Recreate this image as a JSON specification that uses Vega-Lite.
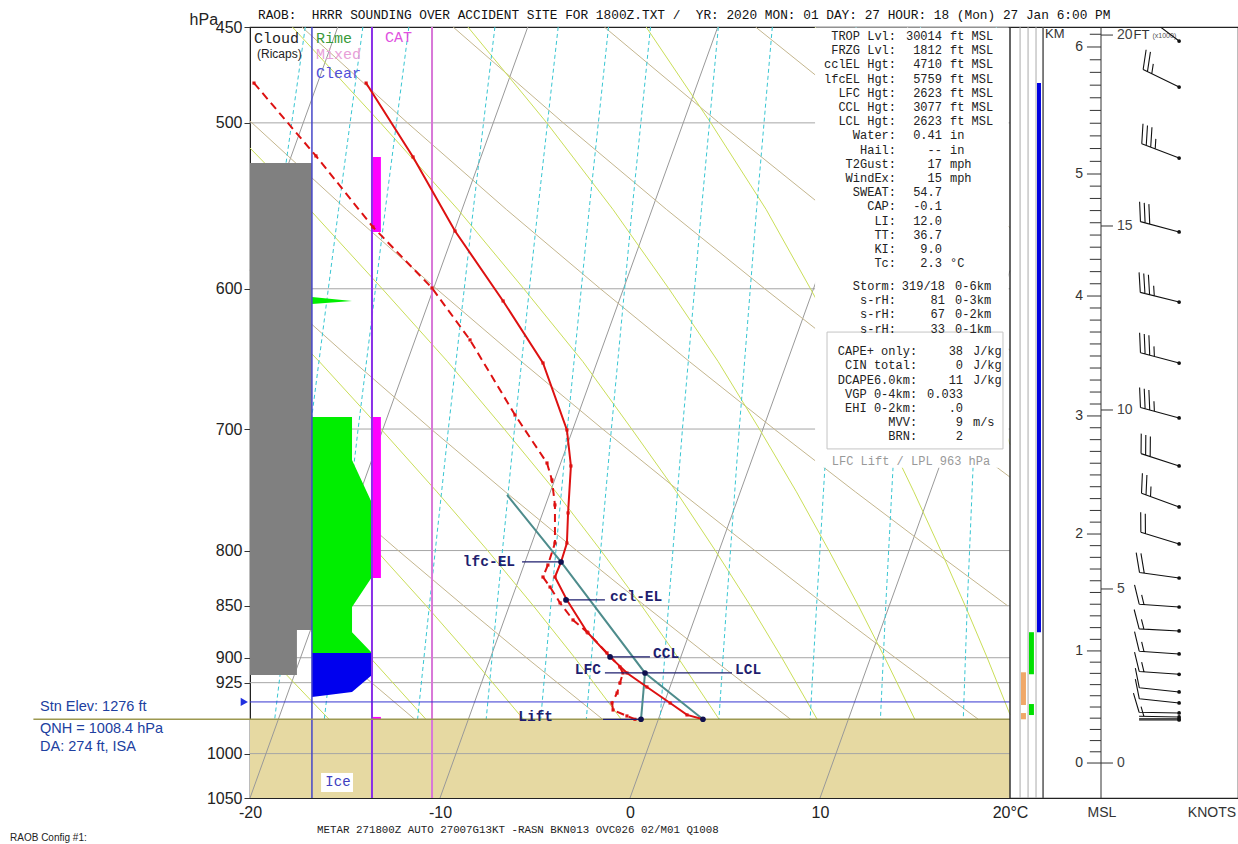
{
"$schema":"https://vega.github.io/schema/vega-lite/v6.json",
"width":988,"height":771,
"autosize":{"type":"none"},
"padding":{"left":250,"top":27,"right":0,"bottom":46},
"background":"white",
"config":{"view":{"stroke":"#222","strokeWidth":1.2},"text":{"font":"Liberation Sans","baseline":"middle"}},
"datasets":{
"iso":[{"id":"i1","x":-20,"p":588.1},{"id":"i1","x":-15.38,"p":450},{"id":"i2","x":-20,"p":1050},{"id":"i2","x":-5.38,"p":450},{"id":"i3","x":-10,"p":1050},{"id":"i3","x":4.62,"p":450},{"id":"i4","x":0,"p":1050},{"id":"i4","x":14.62,"p":450},{"id":"i5","x":10,"p":1050},{"id":"i5","x":20,"p":588.1}],
"dry":[
{"id":"d1","x":-11.33,"p":963},{"id":"d1","x":-15.15,"p":900},{"id":"d1","x":-18.31,"p":850},{"id":"d1","x":-20,"p":824},
{"id":"d2","x":-1.44,"p":963},{"id":"d2","x":-5.45,"p":900},{"id":"d2","x":-8.76,"p":850},{"id":"d2","x":-12.2,"p":800},{"id":"d2","x":-15.77,"p":750},{"id":"d2","x":-19.5,"p":700},{"id":"d2","x":-20,"p":694},
{"id":"d3","x":8.45,"p":963},{"id":"d3","x":4.26,"p":900},{"id":"d3","x":0.79,"p":850},{"id":"d3","x":-2.81,"p":800},{"id":"d3","x":-6.56,"p":750},{"id":"d3","x":-10.47,"p":700},{"id":"d3","x":-14.55,"p":650},{"id":"d3","x":-18.84,"p":600},{"id":"d3","x":-20,"p":587},
{"id":"d4","x":18.33,"p":963},{"id":"d4","x":13.96,"p":900},{"id":"d4","x":10.33,"p":850},{"id":"d4","x":6.57,"p":800},{"id":"d4","x":2.64,"p":750},{"id":"d4","x":-1.44,"p":700},{"id":"d4","x":-5.71,"p":650},{"id":"d4","x":-10.19,"p":600},{"id":"d4","x":-14.92,"p":550},{"id":"d4","x":-20,"p":499},
{"id":"d5","x":19.87,"p":850},{"id":"d5","x":15.95,"p":800},{"id":"d5","x":11.86,"p":750},{"id":"d5","x":7.59,"p":700},{"id":"d5","x":3.13,"p":650},{"id":"d5","x":-1.56,"p":600},{"id":"d5","x":-6.5,"p":550},{"id":"d5","x":-11.71,"p":500},{"id":"d5","x":-17.27,"p":450},
{"id":"d6","x":20,"p":738},{"id":"d6","x":16.62,"p":700},{"id":"d6","x":11.97,"p":650},{"id":"d6","x":7.09,"p":600},{"id":"d6","x":1.93,"p":550},{"id":"d6","x":-3.51,"p":500},{"id":"d6","x":-9.31,"p":450},
{"id":"d7","x":20,"p":642},{"id":"d7","x":15.73,"p":600},{"id":"d7","x":10.36,"p":550},{"id":"d7","x":4.69,"p":500},{"id":"d7","x":-1.35,"p":450},
{"id":"d8","x":20,"p":561},{"id":"d8","x":18.79,"p":550},{"id":"d8","x":12.89,"p":500},{"id":"d8","x":6.61,"p":450}],
"moist":[
{"id":"m1","x":-15.84,"p":963},{"id":"m1","x":-18.94,"p":900},{"id":"m1","x":-20,"p":880},
{"id":"m2","x":-10.74,"p":963},{"id":"m2","x":-13.67,"p":900},{"id":"m2","x":-16.23,"p":850},{"id":"m2","x":-18.99,"p":800},{"id":"m2","x":-20,"p":782},
{"id":"m3","x":-5.61,"p":963},{"id":"m3","x":-8.33,"p":900},{"id":"m3","x":-10.73,"p":850},{"id":"m3","x":-13.35,"p":800},{"id":"m3","x":-16.21,"p":750},{"id":"m3","x":-19.36,"p":700},{"id":"m3","x":-20,"p":690},
{"id":"m4","x":-0.46,"p":963},{"id":"m4","x":-2.91,"p":900},{"id":"m4","x":-5.09,"p":850},{"id":"m4","x":-7.49,"p":800},{"id":"m4","x":-10.16,"p":750},{"id":"m4","x":-13.11,"p":700},{"id":"m4","x":-16.35,"p":650},{"id":"m4","x":-20,"p":601},
{"id":"m5","x":4.69,"p":963},{"id":"m5","x":2.53,"p":900},{"id":"m5","x":0.61,"p":850},{"id":"m5","x":-1.53,"p":800},{"id":"m5","x":-3.9,"p":750},{"id":"m5","x":-6.62,"p":700},{"id":"m5","x":-9.6,"p":650},{"id":"m5","x":-13.04,"p":600},{"id":"m5","x":-16.85,"p":550},{"id":"m5","x":-20,"p":514},
{"id":"m6","x":9.85,"p":963},{"id":"m6","x":7.99,"p":900},{"id":"m6","x":6.34,"p":850},{"id":"m6","x":4.49,"p":800},{"id":"m6","x":2.44,"p":750},{"id":"m6","x":0.09,"p":700},{"id":"m6","x":-2.48,"p":650},{"id":"m6","x":-5.59,"p":600},{"id":"m6","x":-9.05,"p":550},{"id":"m6","x":-13.13,"p":500},{"id":"m6","x":-17.77,"p":450},
{"id":"m7","x":14.99,"p":963},{"id":"m7","x":13.41,"p":900},{"id":"m7","x":12.02,"p":850},{"id":"m7","x":10.47,"p":800},{"id":"m7","x":8.76,"p":750},{"id":"m7","x":6.81,"p":700},{"id":"m7","x":4.64,"p":650},{"id":"m7","x":2.05,"p":600},{"id":"m7","x":-0.89,"p":550},{"id":"m7","x":-4.38,"p":500},{"id":"m7","x":-8.53,"p":450},
{"id":"m8","x":20,"p":958},{"id":"m8","x":18.8,"p":900},{"id":"m8","x":17.64,"p":850},{"id":"m8","x":16.36,"p":800},{"id":"m8","x":14.94,"p":750},{"id":"m8","x":13.35,"p":700},{"id":"m8","x":11.59,"p":650},{"id":"m8","x":9.5,"p":600},{"id":"m8","x":7.17,"p":550},{"id":"m8","x":4.25,"p":500},{"id":"m8","x":0.85,"p":450},
{"id":"m9","x":20,"p":712},{"id":"m9","x":19.7,"p":700},{"id":"m9","x":18.31,"p":650},{"id":"m9","x":16.65,"p":600},{"id":"m9","x":14.8,"p":550},{"id":"m9","x":12.48,"p":500},{"id":"m9","x":9.74,"p":450}],
"mix":[
{"id":"r06","x":-20,"p":700},{"id":"r06","x":-18.45,"p":550},{"id":"r06","x":-17.09,"p":450},
{"id":"r08","x":-18.7,"p":963},{"id":"r08","x":-17.98,"p":850},{"id":"r08","x":-16.83,"p":700},{"id":"r08","x":-15.34,"p":550},{"id":"r08","x":-14.06,"p":450},
{"id":"r1","x":-16.09,"p":963},{"id":"r1","x":-15.4,"p":850},{"id":"r1","x":-14.31,"p":700},{"id":"r1","x":-12.88,"p":550},{"id":"r1","x":-11.64,"p":450},
{"id":"r15","x":-11.18,"p":963},{"id":"r15","x":-10.56,"p":850},{"id":"r15","x":-9.56,"p":700},{"id":"r15","x":-8.25,"p":550},{"id":"r15","x":-7.11,"p":450},
{"id":"r2","x":-7.57,"p":963},{"id":"r2","x":-7.0,"p":850},{"id":"r2","x":-6.08,"p":700},{"id":"r2","x":-4.85,"p":550},{"id":"r2","x":-3.78,"p":450},
{"id":"r25","x":-4.7,"p":963},{"id":"r25","x":-4.17,"p":850},{"id":"r25","x":-3.3,"p":700},{"id":"r25","x":-2.15,"p":550},{"id":"r25","x":-1.13,"p":450},
{"id":"r3","x":-2.3,"p":963},{"id":"r3","x":-1.8,"p":850},{"id":"r3","x":-0.98,"p":700},{"id":"r3","x":0.11,"p":550},{"id":"r3","x":1.08,"p":450},
{"id":"r4","x":1.58,"p":963},{"id":"r4","x":2.03,"p":850},{"id":"r4","x":2.76,"p":700},{"id":"r4","x":3.76,"p":550},{"id":"r4","x":4.65,"p":450},
{"id":"r5","x":4.68,"p":963},{"id":"r5","x":5.08,"p":850},{"id":"r5","x":5.75,"p":700},{"id":"r5","x":6.66,"p":550},{"id":"r5","x":7.49,"p":450},
{"id":"r7","x":9.48,"p":963},{"id":"r7","x":9.82,"p":850},{"id":"r7","x":10.38,"p":700},{"id":"r7","x":11.17,"p":550},{"id":"r7","x":11.9,"p":450},
{"id":"r9","x":13.18,"p":963},{"id":"r9","x":13.46,"p":850},{"id":"r9","x":13.95,"p":700},{"id":"r9","x":14.64,"p":550},{"id":"r9","x":15.29,"p":450},
{"id":"r12","x":17.54,"p":963},{"id":"r12","x":17.75,"p":850},{"id":"r12","x":18.14,"p":700},{"id":"r12","x":18.72,"p":550},{"id":"r12","x":19.28,"p":450}],
"temp":[
{"k":"T","x":-13.89,"p":478.6},{"k":"T","x":-11.42,"p":519.1},{"k":"T","x":-9.21,"p":563.1},{"k":"T","x":-6.68,"p":608.1},{"k":"T","x":-4.58,"p":651.0},{"k":"T","x":-3.32,"p":700.7},{"k":"T","x":-3.11,"p":729.0},{"k":"T","x":-3.26,"p":767.6},{"k":"T","x":-3.32,"p":793.4},{"k":"T","x":-3.63,"p":810.1},{"k":"T","x":-3.95,"p":823.6},{"k":"T","x":-3.32,"p":844.6},{"k":"T","x":-2.26,"p":874.9},{"k":"T","x":-1.05,"p":899.2},{"k":"T","x":-0.16,"p":915.2},{"k":"T","x":0.89,"p":929.4},{"k":"T","x":2.11,"p":945.9},{"k":"T","x":3.0,"p":958.4},{"k":"T","x":3.84,"p":963},
{"k":"Td","x":-19.79,"p":478.6},{"k":"Td","x":-16.53,"p":518.5},{"k":"Td","x":-13.53,"p":560.6},{"k":"Td","x":-10.42,"p":599.5},{"k":"Td","x":-8.42,"p":634.7},{"k":"Td","x":-6.05,"p":689.3},{"k":"Td","x":-4.37,"p":726.6},{"k":"Td","x":-4.11,"p":740.3},{"k":"Td","x":-3.95,"p":760.9},{"k":"Td","x":-3.95,"p":793.4},{"k":"Td","x":-4.32,"p":812.8},{"k":"Td","x":-4.58,"p":823.6},{"k":"Td","x":-4.21,"p":832.7},{"k":"Td","x":-3.68,"p":847.4},{"k":"Td","x":-3.0,"p":863.4},{"k":"Td","x":-2.21,"p":875.8},{"k":"Td","x":-1.21,"p":895.3},{"k":"Td","x":-0.53,"p":909.2},{"k":"Td","x":-0.37,"p":915.2},{"k":"Td","x":-0.53,"p":925.3},{"k":"Td","x":-0.68,"p":935.6},{"k":"Td","x":-0.95,"p":945.9},{"k":"Td","x":-0.89,"p":953.2},{"k":"Td","x":-0.16,"p":959.5},{"k":"Td","x":0.26,"p":963}],
"kmminor":[{"p":998.0},{"p":985.8},{"p":973.8},{"p":961.8},{"p":950.1},{"p":938.4},{"p":927.0},{"p":915.6},{"p":904.4},{"p":882.0},{"p":870.7},{"p":859.5},{"p":848.6},{"p":837.7},{"p":827.0},{"p":816.4},{"p":806.0},{"p":795.7},{"p":775.4},{"p":765.5},{"p":755.6},{"p":745.8},{"p":736.2},{"p":726.8},{"p":717.4},{"p":708.2},{"p":699.0},{"p":681.0},{"p":672.1},{"p":663.3},{"p":654.6},{"p":646.0},{"p":637.5},{"p":629.2},{"p":621.0},{"p":612.8},{"p":596.7},{"p":588.8},{"p":580.9},{"p":573.2},{"p":565.6},{"p":558.0},{"p":550.6},{"p":543.3},{"p":536.0},{"p":521.6},{"p":514.3},{"p":507.2},{"p":500.2},{"p":493.2},{"p":486.4},{"p":479.7},{"p":473.0},{"p":466.5},{"p":453.6}],
"panel":[
{"g":"A","ln":0,"label":"TROP Lvl:","num":"30014","unit":"ft MSL"},
{"g":"A","ln":1,"label":"FRZG Lvl:","num":"1812","unit":"ft MSL"},
{"g":"A","ln":2,"label":"cclEL Hgt:","num":"4710","unit":"ft MSL"},
{"g":"A","ln":3,"label":"lfcEL Hgt:","num":"5759","unit":"ft MSL"},
{"g":"A","ln":4,"label":"LFC Hgt:","num":"2623","unit":"ft MSL"},
{"g":"A","ln":5,"label":"CCL Hgt:","num":"3077","unit":"ft MSL"},
{"g":"A","ln":6,"label":"LCL Hgt:","num":"2623","unit":"ft MSL"},
{"g":"A","ln":7,"label":"Water:","num":"0.41","unit":"in"},
{"g":"A","ln":8,"label":"Hail:","num":"--","unit":"in"},
{"g":"A","ln":9,"label":"T2Gust:","num":"17","unit":"mph"},
{"g":"A","ln":10,"label":"WindEx:","num":"15","unit":"mph"},
{"g":"A","ln":11,"label":"SWEAT:","num":"54.7","unit":""},
{"g":"A","ln":12,"label":"CAP:","num":"-0.1","unit":""},
{"g":"A","ln":13,"label":"LI:","num":"12.0","unit":""},
{"g":"A","ln":14,"label":"TT:","num":"36.7","unit":""},
{"g":"A","ln":15,"label":"KI:","num":"9.0","unit":""},
{"g":"A","ln":16,"label":"Tc:","num":"2.3","unit":"°C"},
{"g":"B","ln":17.6,"label":"Storm:","num":"319/18","unit":"0-6km"},
{"g":"B","ln":18.6,"label":"s-rH:","num":"81","unit":"0-3km"},
{"g":"B","ln":19.6,"label":"s-rH:","num":"67","unit":"0-2km"},
{"g":"B","ln":20.6,"label":"s-rH:","num":"33","unit":"0-1km"},
{"g":"C","ln":22.2,"label":"CAPE+ only:","num":"38","unit":"J/kg"},
{"g":"C","ln":23.2,"label":"CIN total:","num":"0","unit":"J/kg"},
{"g":"C","ln":24.2,"label":"DCAPE6.0km:","num":"11","unit":"J/kg"},
{"g":"C","ln":25.2,"label":"VGP 0-4km:","num":"0.033","unit":""},
{"g":"C","ln":26.2,"label":"EHI 0-2km:","num":".0","unit":""},
{"g":"C","ln":27.2,"label":"MVV:","num":"9","unit":"m/s"},
{"g":"C","ln":28.2,"label":"BRN:","num":"2","unit":""},
{"g":"D","ln":29.9,"label":"LFC Lift / LPL 963 hPa","num":"","unit":""}],
"wind":[
{"p":457.0,"s":"k35","a":37},{"p":480.7,"s":"k25","a":26},{"p":519.7,"s":"k35","a":21},{"p":563.7,"s":"k30","a":15},{"p":608.8,"s":"k35","a":14},{"p":651.0,"s":"k35","a":15},{"p":691.5,"s":"k35","a":15},{"p":729.0,"s":"k30","a":18},{"p":762.6,"s":"k25","a":20},{"p":794.2,"s":"k20","a":17},{"p":824.5,"s":"k20","a":8},{"p":851.2,"s":"k15","a":4},{"p":873.9,"s":"k15","a":3},{"p":896.3,"s":"k15","a":4},{"p":916.5,"s":"k15","a":4},{"p":934.5,"s":"k10","a":6},{"p":945.9,"s":"k10","a":6},{"p":956.3,"s":"k10","a":1},{"p":960.5,"s":"k5","a":1},{"p":962.6,"s":"s0","a":0},{"p":963.7,"s":"s0","a":0}]
},
"layer":[
{
"layer":[
{"data":{"values":[{"p":963,"p2":1050}]},"mark":{"type":"rect","color":"#e6d9a2"},"encoding":{"x":{"datum":-20},"x2":{"datum":20},"y":{"field":"p","type":"quantitative"},"y2":{"field":"p2"}}},
{"data":{"values":[{"p":500},{"p":600},{"p":700},{"p":800},{"p":850},{"p":900},{"p":925},{"p":1000}]},"mark":{"type":"rule","color":"#a6a6a6","strokeWidth":1},"encoding":{"x":{"datum":-20},"x2":{"datum":20},
 "y":{"field":"p","type":"quantitative","scale":{"type":"log","domain":[450,1050],"nice":false,"reverse":true},"axis":{"values":[450,500,600,700,800,850,900,925,1000,1050],"format":"d","title":null,"grid":false,"tickSize":6,"tickColor":"#333","domainColor":"#222","labelFont":"Liberation Sans","labelFontSize":16,"labelColor":"#222","labelPadding":2,"labelFlush":false,"labelOverlap":false}}}},
{"data":{"name":"iso"},"mark":{"type":"line","color":"#999999","strokeWidth":1},"encoding":{
 "x":{"field":"x","type":"quantitative","scale":{"domain":[-20,32],"nice":false,"zero":false},"axis":{"values":[-20,-10,0,10,20],"labelExpr":"datum.value == 20 ? '20°C' : '' + datum.value","ticks":false,"domain":false,"grid":false,"title":null,"labelFont":"Liberation Sans","labelFontSize":16,"labelColor":"#222","labelPadding":6,"labelFlush":false}},
 "y":{"field":"p","type":"quantitative"},"detail":{"field":"id"},"order":{"field":"p","type":"quantitative"}}},
{"data":{"name":"dry"},"mark":{"type":"line","color":"#c4b68e","strokeWidth":1},"encoding":{"x":{"field":"x","type":"quantitative"},"y":{"field":"p","type":"quantitative"},"detail":{"field":"id"},"order":{"field":"p","type":"quantitative"}}},
{"data":{"name":"moist"},"mark":{"type":"line","color":"#cade58","strokeWidth":1},"encoding":{"x":{"field":"x","type":"quantitative"},"y":{"field":"p","type":"quantitative"},"detail":{"field":"id"},"order":{"field":"p","type":"quantitative"}}},
{"data":{"name":"mix"},"mark":{"type":"line","color":"#38c6d2","strokeWidth":1,"strokeDash":[4,3]},"encoding":{"x":{"field":"x","type":"quantitative"},"y":{"field":"p","type":"quantitative"},"detail":{"field":"id"},"order":{"field":"p","type":"quantitative"}}},
{"data":{"values":[{"x":-20,"x2":-16.74,"p":522.5,"p2":873.0},{"x":-20,"x2":-17.53,"p":873.0,"p2":917.2}]},"mark":{"type":"rect","color":"#808080"},"encoding":{"x":{"field":"x","type":"quantitative"},"x2":{"field":"x2"},"y":{"field":"p","type":"quantitative"},"y2":{"field":"p2"}}},
{"data":{"values":[{"id":"a","x":-16.74,"p":605.4},{"id":"a","x":-14.63,"p":608.1},{"id":"a","x":-16.74,"p":610.1},{"id":"b","x":-14.63,"p":690.8},{"id":"b","x":-14.63,"p":724.2},{"id":"b","x":-13.58,"p":759.2},{"id":"b","x":-13.58,"p":823.6},{"id":"b","x":-14.63,"p":851.2},{"id":"b","x":-14.63,"p":875.1},{"id":"b","x":-13.58,"p":895.3}]},"mark":{"type":"area","orient":"horizontal","color":"#00ee00","opacity":1},"encoding":{"x":{"field":"x","type":"quantitative","stack":null},"x2":{"datum":-16.74},"y":{"field":"p","type":"quantitative"},"detail":{"field":"id"}}},
{"data":{"values":[{"x":-13.58,"p":895.3},{"x":-13.58,"p":917.2},{"x":-14.63,"p":934.5},{"x":-16.74,"p":939.7}]},"mark":{"type":"area","orient":"horizontal","color":"#0000ee","opacity":1},"encoding":{"x":{"field":"x","type":"quantitative","stack":null},"x2":{"datum":-16.74},"y":{"field":"p","type":"quantitative"}}},
{"data":{"values":[{"p":519.1,"p2":563.7},{"p":690.8,"p2":824.5},{"p":960.5,"p2":963}]},"mark":{"type":"rect","color":"#ff00ff"},"encoding":{"x":{"datum":-13.53},"x2":{"datum":-13.11},"y":{"field":"p","type":"quantitative"},"y2":{"field":"p2"}}},
{"data":{"values":[{}]},"mark":{"type":"rule","color":"#4646c8","strokeWidth":1.5},"encoding":{"x":{"datum":-16.74},"y":{"datum":450},"y2":{"datum":1050}}},
{"data":{"values":[{}]},"mark":{"type":"rule","color":"#8a30e8","strokeWidth":2},"encoding":{"x":{"datum":-13.58},"y":{"datum":450},"y2":{"datum":1050}}},
{"data":{"values":[{}]},"mark":{"type":"rule","color":"#d878d8","strokeWidth":2},"encoding":{"x":{"datum":-10.42},"y":{"datum":450},"y2":{"datum":1050}}},
{"data":{"values":[{}]},"mark":{"type":"rule","color":"#3434d0","strokeWidth":1},"encoding":{"x":{"datum":-20},"x2":{"datum":20},"y":{"datum":944.8}}},
{"data":{"values":[{}]},"mark":{"type":"rule","color":"#9c9850","strokeWidth":1.5},"encoding":{"x":{"datum":-31.4},"x2":{"datum":20},"y":{"datum":963}}},
{"data":{"values":[{}]},"mark":{"type":"point","shape":"triangle-right","filled":true,"color":"#2030e0","size":70,"opacity":1},"encoding":{"x":{"datum":-20.3},"y":{"datum":944.8}}},
{"data":{"values":[{"id":"a","x":3.84,"p":963},{"id":"a","x":0.79,"p":915.2},{"id":"a","x":-3.63,"p":810.1},{"id":"a","x":-6.47,"p":752.6},{"id":"b","x":0.58,"p":963},{"id":"b","x":0.79,"p":915.2}]},"mark":{"type":"line","color":"#4e8c8c","strokeWidth":2},"encoding":{"x":{"field":"x","type":"quantitative"},"y":{"field":"p","type":"quantitative"},"detail":{"field":"id"},"order":{"field":"p","type":"quantitative"}}},
{"data":{"name":"temp"},"transform":[{"filter":"datum.k == 'T'"}],"mark":{"type":"line","color":"#dd1111","strokeWidth":2},"encoding":{"x":{"field":"x","type":"quantitative"},"y":{"field":"p","type":"quantitative"},"order":{"field":"p","type":"quantitative"}}},
{"data":{"name":"temp"},"transform":[{"filter":"datum.k == 'Td'"}],"mark":{"type":"line","color":"#dd1111","strokeWidth":2,"strokeDash":[8,5]},"encoding":{"x":{"field":"x","type":"quantitative"},"y":{"field":"p","type":"quantitative"},"order":{"field":"p","type":"quantitative"}}},
{"data":{"name":"temp"},"mark":{"type":"point","shape":"square","filled":true,"color":"#dd1111","size":10,"opacity":1},"encoding":{"x":{"field":"x","type":"quantitative"},"y":{"field":"p","type":"quantitative"}}},
{"data":{"values":[{"x":-5.68,"x2":-3.63,"p":810.1},{"x":-3.37,"x2":-1.32,"p":844.6},{"x":-1.05,"x2":1.05,"p":899.2},{"x":-1.32,"x2":5.37,"p":915.2},{"x":-1.42,"x2":0.58,"p":963}]},"mark":{"type":"rule","color":"#1e1e6e","strokeWidth":1.2},"encoding":{"x":{"field":"x","type":"quantitative"},"x2":{"field":"x2"},"y":{"field":"p","type":"quantitative"}}},
{"data":{"values":[{"x":-3.63,"p":810.1},{"x":-3.37,"p":844.6},{"x":-1.05,"p":899.2},{"x":0.79,"p":915.2},{"x":0.58,"p":963},{"x":3.84,"p":963}]},"mark":{"type":"point","filled":true,"color":"#10104e","size":32,"opacity":1},"encoding":{"x":{"field":"x","type":"quantitative"},"y":{"field":"p","type":"quantitative"}}},
{"data":{"values":[{}]},"mark":{"type":"text","text":"lfc-EL","align":"right","font":"Liberation Mono","fontWeight":"bold","fontSize":14.5,"color":"#1e1e6e"},"encoding":{"x":{"datum":-6.05},"y":{"datum":810}}},
{"data":{"values":[{}]},"mark":{"type":"text","text":"ccl-EL","align":"left","font":"Liberation Mono","fontWeight":"bold","fontSize":14.5,"color":"#1e1e6e"},"encoding":{"x":{"datum":-1.05},"y":{"datum":841.9}}},
{"data":{"values":[{}]},"mark":{"type":"text","text":"CCL","align":"left","font":"Liberation Mono","fontWeight":"bold","fontSize":14.5,"color":"#1e1e6e"},"encoding":{"x":{"datum":1.21},"y":{"datum":896.3}}},
{"data":{"values":[{}]},"mark":{"type":"text","text":"LFC","align":"right","font":"Liberation Mono","fontWeight":"bold","fontSize":14.5,"color":"#1e1e6e"},"encoding":{"x":{"datum":-1.53},"y":{"datum":912.2}}},
{"data":{"values":[{}]},"mark":{"type":"text","text":"LCL","align":"left","font":"Liberation Mono","fontWeight":"bold","fontSize":14.5,"color":"#1e1e6e"},"encoding":{"x":{"datum":5.53},"y":{"datum":912.2}}},
{"data":{"values":[{}]},"mark":{"type":"text","text":"Lift","align":"right","font":"Liberation Mono","fontWeight":"bold","fontSize":14.5,"color":"#1e1e6e"},"encoding":{"x":{"datum":-4.05},"y":{"datum":960.5}}},
{"data":{"values":[{}]},"mark":{"type":"text","text":"Cloud","align":"left","font":"Liberation Mono","fontSize":15,"color":"#222"},"encoding":{"x":{"datum":-19.79},"y":{"datum":455.5}}},
{"data":{"values":[{}]},"mark":{"type":"text","text":"(Ricaps)","align":"left","font":"Liberation Sans","fontSize":12,"color":"#222"},"encoding":{"x":{"datum":-19.63},"y":{"datum":463.5}}},
{"data":{"values":[{}]},"mark":{"type":"text","text":"Rime","align":"left","font":"Liberation Mono","fontSize":15,"color":"#3a9a3a"},"encoding":{"x":{"datum":-16.53},"y":{"datum":455.5}}},
{"data":{"values":[{}]},"mark":{"type":"text","text":"Mixed","align":"left","font":"Liberation Mono","fontSize":15,"color":"#e8a0d8"},"encoding":{"x":{"datum":-16.53},"y":{"datum":463.5}}},
{"data":{"values":[{}]},"mark":{"type":"text","text":"Clear","align":"left","font":"Liberation Mono","fontSize":15,"color":"#5050d8"},"encoding":{"x":{"datum":-16.53},"y":{"datum":473.3}}},
{"data":{"values":[{}]},"mark":{"type":"text","text":"CAT","align":"left","font":"Liberation Mono","fontSize":15,"color":"#e050e0"},"encoding":{"x":{"datum":-12.89},"y":{"datum":455}}},
{"data":{"values":[{}]},"mark":{"type":"rect","color":"white"},"encoding":{"x":{"datum":-16.26},"x2":{"datum":-14.58},"y":{"datum":1021.5},"y2":{"datum":1043.1}}},
{"data":{"values":[{}]},"mark":{"type":"text","text":"Ice","align":"center","font":"Liberation Mono","fontSize":14,"color":"#4040c0"},"encoding":{"x":{"datum":-15.37},"y":{"datum":1031.7}}},
{"data":{"values":[{}]},"mark":{"type":"rule","color":"#333","strokeWidth":1.5},"encoding":{"x":{"datum":20},"y":{"datum":450},"y2":{"datum":1050}}},
{"data":{"values":[{"x":20.53},{"x":20.95},{"x":21.37}]},"mark":{"type":"rule","color":"#aaaaaa","strokeWidth":1},"encoding":{"x":{"field":"x","type":"quantitative"},"y":{"datum":450},"y2":{"datum":1050}}},
{"data":{"values":[{}]},"mark":{"type":"rule","color":"#555","strokeWidth":1.5},"encoding":{"x":{"datum":21.74},"y":{"datum":450},"y2":{"datum":1050}}},
{"data":{"values":[{"p":478.6,"p2":875.1}]},"mark":{"type":"rect","color":"#0000e0"},"encoding":{"x":{"datum":21.42},"x2":{"datum":21.63},"y":{"field":"p","type":"quantitative"},"y2":{"field":"p2"}}},
{"data":{"values":[{"p":875.1,"p2":916.5},{"p":947,"p2":958.5}]},"mark":{"type":"rect","color":"#00e000"},"encoding":{"x":{"datum":21.0},"x2":{"datum":21.26},"y":{"field":"p","type":"quantitative"},"y2":{"field":"p2"}}},
{"data":{"values":[{"p":914.5,"p2":948},{"p":956.4,"p2":963}]},"mark":{"type":"rect","color":"#f0a868"},"encoding":{"x":{"datum":20.58},"x2":{"datum":20.84},"y":{"field":"p","type":"quantitative"},"y2":{"field":"p2"}}},
{"data":{"values":[{}]},"mark":{"type":"rule","color":"#333","strokeWidth":1},"encoding":{"x":{"datum":24.79},"y":{"datum":450},"y2":{"datum":1050}}},
{"data":{"values":[{"p":1010.4,"lab":"0"},{"p":893.3,"lab":"1"},{"p":785.6,"lab":"2"},{"p":690.0,"lab":"3"},{"p":604.8,"lab":"4"},{"p":528.9,"lab":"5"},{"p":460.0,"lab":"6"}]},"layer":[
 {"mark":{"type":"rule","color":"#333","strokeWidth":1},"encoding":{"x":{"datum":24.05},"x2":{"datum":24.79},"y":{"field":"p","type":"quantitative"}}},
 {"mark":{"type":"text","align":"right","fontSize":14,"color":"#333"},"encoding":{"x":{"datum":23.84},"y":{"field":"p","type":"quantitative"},"text":{"field":"lab"}}}]},
{"data":{"values":[{"p":1010.4,"lab":"0"},{"p":834.5,"lab":"5"},{"p":685.5,"lab":"10"},{"p":560.0,"lab":"15"},{"p":454.0,"lab":"20"}]},"layer":[
 {"mark":{"type":"rule","color":"#333","strokeWidth":1},"encoding":{"x":{"datum":24.79},"x2":{"datum":25.42},"y":{"field":"p","type":"quantitative"}}},
 {"mark":{"type":"text","align":"left","fontSize":14,"color":"#444"},"encoding":{"x":{"datum":25.63},"y":{"field":"p","type":"quantitative"},"text":{"field":"lab"}}}]},
{"data":{"name":"kmminor"},"mark":{"type":"rule","color":"#333","strokeWidth":1},"encoding":{"x":{"datum":24.2},"x2":{"datum":24.79},"y":{"field":"p","type":"quantitative"}}},
{"data":{"values":[{}]},"mark":{"type":"text","text":"KM","align":"left","fontSize":13,"color":"#333"},"encoding":{"x":{"datum":21.84},"y":{"datum":453.5}}},
{"data":{"values":[{}]},"mark":{"type":"text","text":"FT","align":"left","fontSize":13,"color":"#333"},"encoding":{"x":{"datum":26.5},"y":{"datum":454}}},
{"data":{"values":[{}]},"mark":{"type":"text","text":"(x1000)","align":"left","fontSize":7,"color":"#555"},"encoding":{"x":{"datum":27.5},"y":{"datum":454.5}}},
{"data":{"values":[{}]},"mark":{"type":"text","text":"MSL","align":"center","fontSize":14,"color":"#333"},"encoding":{"x":{"datum":24.84},"y":{"datum":1067.5}}},
{"data":{"values":[{}]},"mark":{"type":"text","text":"KNOTS","align":"right","fontSize":14,"color":"#333"},"encoding":{"x":{"datum":31.9},"y":{"datum":1067.5}}},
{"data":{"name":"wind"},"mark":{"type":"point","filled":false,"size":6400,"stroke":"#111","strokeWidth":1.1,"opacity":1,"clip":true},"encoding":{"x":{"datum":28.9},"y":{"field":"p","type":"quantitative"},"shape":{"field":"s","type":"nominal","legend":null,"scale":{"domain":["s0","k5","k10","k15","k20","k25","k30","k35"],"range":["M0,0L-1,0","M0,0L-1,0M-0.88,0L-0.955,-0.239","M0,0L-1,0M-1,0L-1.15,-0.477","M0,0L-1,0M-1,0L-1.15,-0.477M-0.88,0L-0.955,-0.239","M0,0L-1,0M-1,0L-1.15,-0.477M-0.88,0L-1.03,-0.477","M0,0L-1,0M-1,0L-1.15,-0.477M-0.88,0L-1.03,-0.477M-0.76,0L-0.835,-0.239","M0,0L-1,0M-1,0L-1.15,-0.477M-0.88,0L-1.03,-0.477M-0.76,0L-0.91,-0.477","M0,0L-1,0M-1,0L-1.15,-0.477M-0.88,0L-1.03,-0.477M-0.76,0L-0.91,-0.477M-0.64,0L-0.715,-0.239"]}},"angle":{"field":"a","type":"quantitative","scale":null}}},
{"data":{"name":"wind"},"mark":{"type":"point","filled":true,"size":14,"color":"#111","opacity":1},"encoding":{"x":{"datum":28.9},"y":{"field":"p","type":"quantitative"}}},
{"data":{"values":[{}]},"mark":{"type":"text","text":"RAOB:\u00a0 HRRR SOUNDING OVER ACCIDENT SITE FOR 1800Z.TXT /\u00a0 YR: 2020 MON: 01 DAY: 27 HOUR: 18 (Mon) 27 Jan 6:00 PM","align":"left","font":"Liberation Mono","fontSize":12.8,"color":"#111"},"encoding":{"x":{"datum":-19.58},"y":{"datum":444.1}}},
{"data":{"values":[{}]},"mark":{"type":"text","text":"hPa","align":"right","fontSize":16,"color":"#222"},"encoding":{"x":{"datum":-21.68},"y":{"datum":446.6}}},
{"data":{"values":[{}]},"mark":{"type":"text","text":"METAR 271800Z AUTO 27007G13KT -RASN BKN013 OVC026 02/M01 Q1008","align":"left","font":"Liberation Mono","fontSize":10.8,"color":"#222"},"encoding":{"x":{"datum":-16.47},"y":{"datum":1087.6}}},
{"data":{"values":[{}]},"mark":{"type":"text","text":"RAOB Config #1:","align":"left","fontSize":10,"color":"#222"},"encoding":{"x":{"datum":-32.63},"y":{"datum":1097}}},
{"data":{"values":[{}]},"mark":{"type":"text","text":"Stn Elev: 1276 ft","align":"left","fontSize":14.5,"color":"#2040a0"},"encoding":{"x":{"datum":-31.05},"y":{"datum":950.0}}},
{"data":{"values":[{}]},"mark":{"type":"text","text":"QNH = 1008.4 hPa","align":"left","fontSize":14.5,"color":"#2040a0"},"encoding":{"x":{"datum":-31.05},"y":{"datum":973.3}}},
{"data":{"values":[{}]},"mark":{"type":"text","text":"DA: 274 ft, ISA","align":"left","fontSize":14.5,"color":"#2040a0"},"encoding":{"x":{"datum":-31.05},"y":{"datum":992.7}}}
]
},
{
"layer":[
{"data":{"values":[{}]},"mark":{"type":"rect","color":"white"},"encoding":{"x":{"datum":9.74},"x2":{"datum":19.93},"y":{"datum":-0.6,"axis":null},"y2":{"datum":30.4}}},
{"data":{"values":[{}]},"mark":{"type":"rect","filled":false,"stroke":"#c4c4c4","strokeWidth":1},"encoding":{"x":{"datum":10.37},"x2":{"datum":19.63},"y":{"datum":20.85,"axis":null},"y2":{"datum":29.08}}},
{"data":{"name":"panel"},"transform":[{"filter":"datum.g == 'A' || datum.g == 'B'"}],"mark":{"type":"text","align":"right","font":"Liberation Mono","fontSize":12,"color":"#222"},"encoding":{"x":{"datum":14.0},"y":{"field":"ln","type":"quantitative","scale":{"domain":[0,30],"range":[9,435]},"axis":null},"text":{"field":"label"}}},
{"data":{"name":"panel"},"transform":[{"filter":"datum.g == 'A'"}],"mark":{"type":"text","align":"right","font":"Liberation Mono","fontSize":12,"color":"#222"},"encoding":{"x":{"datum":16.42},"y":{"field":"ln","type":"quantitative","axis":null},"text":{"field":"num"}}},
{"data":{"name":"panel"},"transform":[{"filter":"datum.g == 'A'"}],"mark":{"type":"text","align":"left","font":"Liberation Mono","fontSize":12,"color":"#222"},"encoding":{"x":{"datum":16.84},"y":{"field":"ln","type":"quantitative","axis":null},"text":{"field":"unit"}}},
{"data":{"name":"panel"},"transform":[{"filter":"datum.g == 'B'"}],"mark":{"type":"text","align":"right","font":"Liberation Mono","fontSize":12,"color":"#222"},"encoding":{"x":{"datum":16.58},"y":{"field":"ln","type":"quantitative","axis":null},"text":{"field":"num"}}},
{"data":{"name":"panel"},"transform":[{"filter":"datum.g == 'B'"}],"mark":{"type":"text","align":"left","font":"Liberation Mono","fontSize":12,"color":"#222"},"encoding":{"x":{"datum":17.11},"y":{"field":"ln","type":"quantitative","axis":null},"text":{"field":"unit"}}},
{"data":{"name":"panel"},"transform":[{"filter":"datum.g == 'C'"}],"mark":{"type":"text","align":"right","font":"Liberation Mono","fontSize":12,"color":"#222"},"encoding":{"x":{"datum":15.11},"y":{"field":"ln","type":"quantitative","axis":null},"text":{"field":"label"}}},
{"data":{"name":"panel"},"transform":[{"filter":"datum.g == 'C'"}],"mark":{"type":"text","align":"right","font":"Liberation Mono","fontSize":12,"color":"#222"},"encoding":{"x":{"datum":17.53},"y":{"field":"ln","type":"quantitative","axis":null},"text":{"field":"num"}}},
{"data":{"name":"panel"},"transform":[{"filter":"datum.g == 'C'"}],"mark":{"type":"text","align":"left","font":"Liberation Mono","fontSize":12,"color":"#222"},"encoding":{"x":{"datum":18.05},"y":{"field":"ln","type":"quantitative","axis":null},"text":{"field":"unit"}}},
{"data":{"name":"panel"},"transform":[{"filter":"datum.g == 'D'"}],"mark":{"type":"text","align":"center","font":"Liberation Mono","fontSize":12,"color":"#999"},"encoding":{"x":{"datum":14.79},"y":{"field":"ln","type":"quantitative","axis":null},"text":{"field":"label"}}}
]
}
],
"resolve":{"scale":{"y":"independent"}}
}
